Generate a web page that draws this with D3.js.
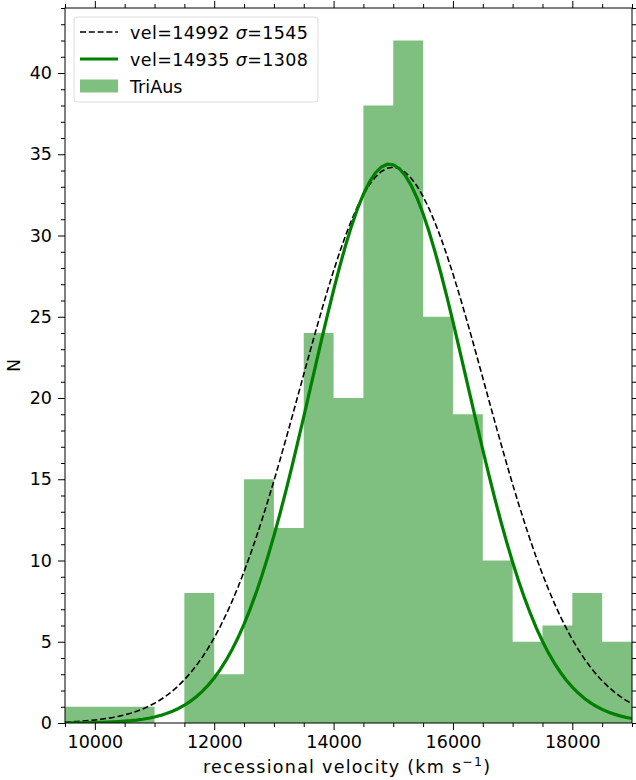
<!DOCTYPE html>
<html>
<head>
<meta charset="utf-8">
<script src="https://cdn.jsdelivr.net/npm/d3@7"></script>
<style>
  body { margin: 0; background: #fff; }
  svg text { font-family: "DejaVu Sans", sans-serif; fill: #000; }
</style>
</head>
<body>
<svg id="chart" width="636" height="780"></svg>
<script>
/* ── Data ─────────────────────────────────────────────────────────────────── */

const binStarts = [9500, 10000, 10500, 11000, 11500, 12000, 12500, 13000, 13500,
  14000, 14500, 15000, 15500, 16000, 16500, 17000, 17500, 18000, 18500];
const binCounts = [1, 1, 1, 0, 8, 3, 15, 12, 24, 20, 38, 42, 25, 19, 10, 5, 6, 8, 5];
const BIN_WIDTH = 500;

// gaussian fits: [mean, sigma, peak]
const fitDashed = [14992, 1545, 34.2];
const fitSolid = [14935, 1308, 34.4];

const legendLabels = ["vel=14992 ", "vel=14935 "];
const legendSigmas = ["1545", "1308"];

const xTicks = [10000, 12000, 14000, 16000, 18000];
const yTicks = [0, 5, 10, 15, 20, 25, 30, 35, 40];

/* ── Layout ───────────────────────────────────────────────────────────────── */

const svg = d3.select("#chart");
const m = { left: 65, right: 4, top: 8, bottom: 57 };
const W = 636 - m.left - m.right;
const H = 780 - m.top - m.bottom;
const FS = 17.5;

const x = d3.scaleLinear().domain([9500, 19000]).range([m.left, m.left + W]);
const y = d3.scaleLinear().domain([0, 44]).range([m.top + H, m.top]);

const GREEN = "#008000";

/* ── Histogram (one step path, so no seams between bars) ─────────────────── */

const steps = binStarts.map((s, i) => [s, binCounts[i]]);
steps.push([binStarts[binStarts.length - 1] + BIN_WIDTH, binCounts[binCounts.length - 1]]);

svg.append("path")
  .attr("d", d3.area().curve(d3.curveStepAfter)
    .x((d) => x(d[0])).y0(y(0)).y1((d) => y(d[1]))(steps))
  .attr("fill", GREEN)
  .attr("fill-opacity", 0.5);

/* ── Gaussian curves ──────────────────────────────────────────────────────── */

const gauss = ([mu, sd, a]) => (v) => a * Math.exp(-0.5 * ((v - mu) / sd) ** 2);
const xs = d3.range(9500, 19001, 100);
const line = d3.line().x((d) => x(d[0])).y((d) => y(d[1]));

svg.append("clipPath").attr("id", "plot-clip")
  .append("rect").attr("x", m.left).attr("y", m.top).attr("width", W).attr("height", H);

const gDashed = gauss(fitDashed);
svg.append("path")
  .attr("clip-path", "url(#plot-clip)")
  .attr("d", line(xs.map((v) => [v, gDashed(v)])))
  .attr("fill", "none")
  .attr("stroke", "#000")
  .attr("stroke-width", 1.6)
  .attr("stroke-dasharray", "6,2.8");

const gSolid = gauss(fitSolid);
svg.append("path")
  .attr("clip-path", "url(#plot-clip)")
  .attr("d", line(xs.map((v) => [v, gSolid(v)])))
  .attr("fill", "none")
  .attr("stroke", GREEN)
  .attr("stroke-width", 3.2);

/* ── Axes ─────────────────────────────────────────────────────────────────── */

const xMinor = d3.range(9500, 19001, 500).filter((v) => v % 2000 !== 0);
const yMinor = d3.range(0, 45, 1).filter((v) => v % 5 !== 0);

function styleAxis(g) {
  g.select(".domain").remove();
  g.selectAll("line").attr("stroke", "#000").attr("stroke-width", 1);
  g.selectAll("text").attr("font-size", FS);
}

function ticks(axisFn, pos, major, minor, labelled) {
  const tr = axisFn === d3.axisBottom || axisFn === d3.axisTop
    ? `translate(0,${pos})` : `translate(${pos},0)`;
  const scale = axisFn === d3.axisBottom || axisFn === d3.axisTop ? x : y;
  const a = axisFn(scale).tickValues(major).tickSize(7).tickPadding(6);
  if (!labelled) a.tickFormat("");
  else if (scale === x) a.tickFormat(d3.format("d"));
  svg.append("g").attr("transform", tr).call(a).call(styleAxis);
  svg.append("g").attr("transform", tr)
    .call(axisFn(scale).tickValues(minor).tickSize(4).tickFormat(""))
    .call(styleAxis);
}

ticks(d3.axisBottom, m.top + H, xTicks, xMinor, true);
ticks(d3.axisTop, m.top, xTicks, xMinor, false);
ticks(d3.axisLeft, m.left, yTicks, yMinor, true);
ticks(d3.axisRight, m.left + W, yTicks, yMinor, false);

// frame
svg.append("rect")
  .attr("x", m.left).attr("y", m.top).attr("width", W).attr("height", H)
  .attr("fill", "none").attr("stroke", "#000").attr("stroke-width", 1);

// axis labels
const xl = svg.append("text")
  .attr("x", 203).attr("y", 773)
  .attr("font-size", FS)
  .attr("textLength", 287)
  .attr("lengthAdjust", "spacing")
  .text("recessional velocity (km s");
xl.append("tspan").attr("font-size", 12.5).attr("dy", -7).text("−1");
xl.append("tspan").attr("dy", 7).text(")");

svg.append("text")
  .attr("transform", `translate(20,${m.top + H / 2}) rotate(-90)`)
  .attr("text-anchor", "middle").attr("font-size", FS)
  .text("N");

/* ── Legend ───────────────────────────────────────────────────────────────── */

const lg = svg.append("g");
lg.append("rect")
  .attr("x", 74).attr("y", 17).attr("width", 244).attr("height", 85)
  .attr("rx", 3).attr("fill", "#fff").attr("fill-opacity", 0.8)
  .attr("stroke", "#ddd").attr("stroke-width", 1);

const rowY = [32, 59, 86];
lg.append("line").attr("x1", 80).attr("x2", 118).attr("y1", rowY[0]).attr("y2", rowY[0])
  .attr("stroke", "#000").attr("stroke-width", 1.6).attr("stroke-dasharray", "6,2.8");
lg.append("line").attr("x1", 80).attr("x2", 118).attr("y1", rowY[1]).attr("y2", rowY[1])
  .attr("stroke", GREEN).attr("stroke-width", 3.2);
lg.append("rect").attr("x", 80).attr("y", rowY[2] - 6.5).attr("width", 38).attr("height", 13)
  .attr("fill", GREEN).attr("fill-opacity", 0.5);

legendLabels.forEach((lab, i) => {
  const t = lg.append("text").attr("x", 130).attr("y", rowY[i] + 6.5).attr("font-size", FS)
    .attr("textLength", 178).attr("lengthAdjust", "spacing")
    .text(lab);
  t.append("tspan").attr("font-style", "italic").text("σ");
  t.append("tspan").text("=" + legendSigmas[i]);
});
lg.append("text").attr("x", 130).attr("y", rowY[2] + 6.5).attr("font-size", FS).text("TriAus");
</script>
</body>
</html>
